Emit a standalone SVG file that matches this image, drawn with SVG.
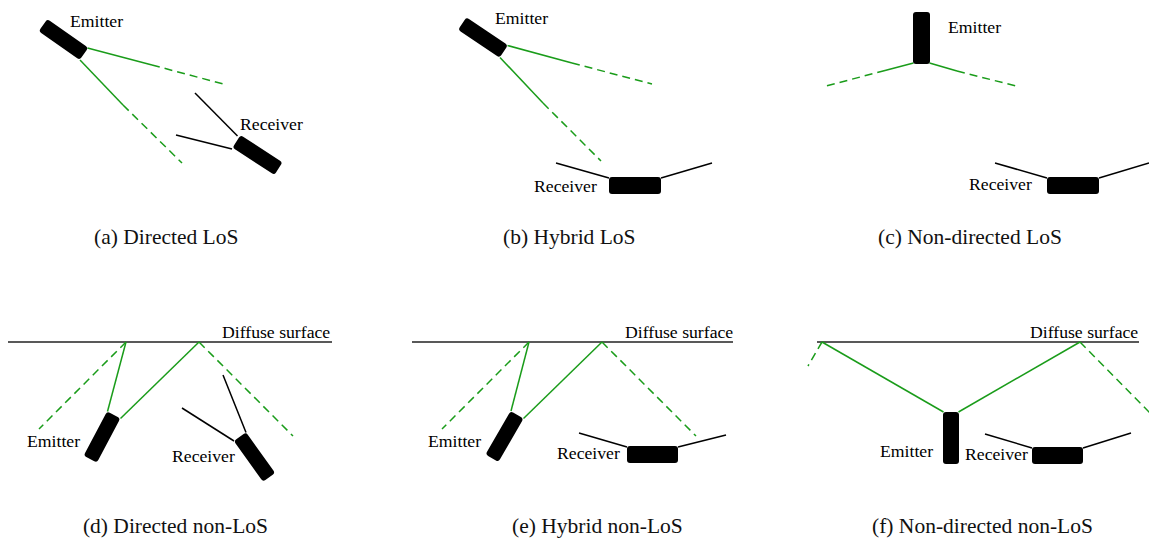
<svg xmlns="http://www.w3.org/2000/svg" width="1149" height="538" viewBox="0 0 1149 538">
<style>
.lbl{font-family:"Liberation Serif","Times New Roman",serif;font-size:17.7px;fill:#000}
.cap{font-family:"Liberation Serif","Times New Roman",serif;font-size:21.5px;fill:#111}
.dev{fill:#000}
.solid{stroke:#1a9c1a;stroke-width:1.5;fill:none}
.dash{stroke:#1a9c1a;stroke-width:1.5;fill:none;stroke-dasharray:8 5}
.fov{stroke:#000;stroke-width:1.5;fill:none}
.surf{stroke:#222;stroke-width:1.6;fill:none}
</style>
<rect width="1149" height="538" fill="#fff"/>
<g id="connectors">
<!-- (a) -->
<line class="solid" x1="87.5" y1="48" x2="152" y2="65"/>
<line class="dash" x1="152" y1="65" x2="227" y2="85"/>
<line class="solid" x1="80" y1="60" x2="123" y2="105"/>
<line class="dash" x1="123" y1="105" x2="182" y2="163"/>
<line class="fov" x1="237.5" y1="136" x2="195" y2="93"/>
<line class="fov" x1="232" y1="149" x2="176" y2="135"/>
<!-- (b) -->
<line class="solid" x1="507.5" y1="45.5" x2="572" y2="63"/>
<line class="dash" x1="572" y1="63" x2="652" y2="84"/>
<line class="solid" x1="500" y1="57.5" x2="543" y2="103"/>
<line class="dash" x1="543" y1="103" x2="601" y2="161"/>
<line class="fov" x1="609" y1="178" x2="556" y2="163"/>
<line class="fov" x1="661" y1="178" x2="712" y2="163"/>
<!-- (c) -->
<line class="solid" x1="913.5" y1="63" x2="885" y2="70.5"/>
<line class="dash" x1="885" y1="70.5" x2="826" y2="86"/>
<line class="solid" x1="929.5" y1="63" x2="957" y2="71"/>
<line class="dash" x1="957" y1="71" x2="1016" y2="86"/>
<line class="fov" x1="1047" y1="178" x2="995" y2="163"/>
<line class="fov" x1="1099" y1="178" x2="1149" y2="163"/>
<!-- (d) -->
<line class="surf" x1="8" y1="342" x2="332" y2="342"/>
<line class="solid" x1="107.5" y1="411.5" x2="126" y2="342"/>
<line class="solid" x1="120.5" y1="418.5" x2="199" y2="342"/>
<line class="dash" x1="126" y1="342" x2="39" y2="429"/>
<line class="dash" x1="199" y1="342" x2="293" y2="436"/>
<line class="fov" x1="246" y1="432.5" x2="223" y2="375"/>
<line class="fov" x1="234" y1="441" x2="182" y2="408"/>
<!-- (e) -->
<line class="surf" x1="412" y1="342" x2="733" y2="342"/>
<line class="solid" x1="511" y1="411" x2="529" y2="342"/>
<line class="solid" x1="523.5" y1="418.5" x2="602" y2="342"/>
<line class="dash" x1="529" y1="342" x2="442" y2="429"/>
<line class="dash" x1="602" y1="342" x2="696" y2="436"/>
<line class="fov" x1="627" y1="447" x2="579" y2="433"/>
<line class="fov" x1="678" y1="447" x2="726" y2="435"/>
<!-- (f) -->
<line class="surf" x1="817" y1="342" x2="1139" y2="342"/>
<line class="solid" x1="943.5" y1="412" x2="822" y2="342"/>
<line class="solid" x1="958.5" y1="412" x2="1080" y2="342"/>
<line class="dash" x1="822" y1="342" x2="808" y2="366"/>
<line class="dash" x1="1080" y1="342" x2="1152" y2="415"/>
<line class="fov" x1="1032" y1="448" x2="985" y2="434"/>
<line class="fov" x1="1083" y1="448" x2="1131" y2="433"/>
</g>
<!-- (a) -->
<g id="a-emitter"><rect class="dev" x="-25" y="-7.5" width="50" height="15" rx="3" transform="translate(63.5,39.5) rotate(35)"/><text class="lbl" x="70" y="27">Emitter</text></g>
<g id="a-receiver"><rect class="dev" x="-25" y="-7.5" width="50" height="15" rx="3" transform="translate(257.5,155) rotate(33)"/><text class="lbl" x="240" y="130">Receiver</text></g>
<g id="a-caption"><text class="cap" x="94" y="244">(a) Directed LoS</text></g>
<!-- (b) -->
<g id="b-emitter"><rect class="dev" x="-25" y="-7.5" width="50" height="15" rx="3" transform="translate(483,37.5) rotate(34)"/><text class="lbl" x="495" y="24">Emitter</text></g>
<g id="b-receiver"><rect class="dev" x="609" y="177" width="52" height="17" rx="3"/><text class="lbl" x="534" y="192">Receiver</text></g>
<g id="b-caption"><text class="cap" x="503" y="244">(b) Hybrid LoS</text></g>
<!-- (c) -->
<g id="c-emitter"><rect class="dev" x="913" y="12" width="17" height="52" rx="3"/><text class="lbl" x="948" y="33">Emitter</text></g>
<g id="c-receiver"><rect class="dev" x="1047" y="177" width="52" height="17" rx="3"/><text class="lbl" x="969" y="190">Receiver</text></g>
<g id="c-caption"><text class="cap" x="878" y="244">(c) Non-directed LoS</text></g>
<!-- (d) -->
<g id="d-surface"><text class="lbl" x="222" y="338">Diffuse surface</text></g>
<g id="d-emitter"><rect class="dev" x="-7.5" y="-25" width="15" height="50" rx="3" transform="translate(102,437) rotate(28)"/><text class="lbl" x="27" y="447">Emitter</text></g>
<g id="d-receiver"><rect class="dev" x="-7.5" y="-25" width="15" height="50" rx="3" transform="translate(254.5,457) rotate(-35.6)"/><text class="lbl" x="172" y="462">Receiver</text></g>
<g id="d-caption"><text class="cap" x="268" y="533" text-anchor="end">(d) Directed non-LoS</text></g>
<!-- (e) -->
<g id="e-surface"><text class="lbl" x="625" y="338">Diffuse surface</text></g>
<g id="e-emitter"><rect class="dev" x="-7.5" y="-25" width="15" height="50" rx="3" transform="translate(504.5,436.5) rotate(30)"/><text class="lbl" x="428" y="447">Emitter</text></g>
<g id="e-receiver"><rect class="dev" x="627" y="446" width="51" height="17" rx="3"/><text class="lbl" x="557" y="459">Receiver</text></g>
<g id="e-caption"><text class="cap" x="512" y="533">(e) Hybrid non-LoS</text></g>
<!-- (f) -->
<g id="f-surface"><text class="lbl" x="1030" y="338">Diffuse surface</text></g>
<g id="f-emitter"><rect class="dev" x="943" y="412" width="16" height="52" rx="3"/><text class="lbl" x="880" y="457">Emitter</text></g>
<g id="f-receiver"><rect class="dev" x="1032" y="447" width="51" height="17" rx="3"/><text class="lbl" x="965" y="460">Receiver</text></g>
<g id="f-caption"><text class="cap" x="872" y="533">(f) Non-directed non-LoS</text></g>
</svg>
